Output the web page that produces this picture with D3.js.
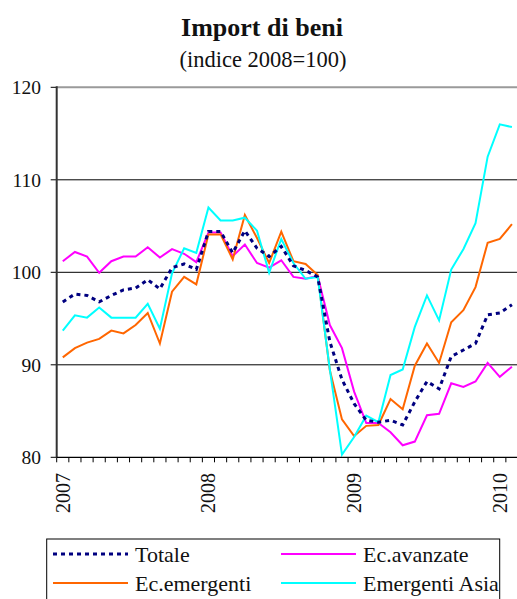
<!DOCTYPE html>
<html><head>
<meta charset="utf-8">
<script src="https://d3js.org/d3.v7.min.js"></script>
<style>
  body { margin: 0; background: #fff; }
  svg { font-family: "Liberation Serif", "Times New Roman", "DejaVu Serif", serif; }
  text { fill: #111; }
  line.grid { stroke: #000; stroke-width: 1px; }
</style>
</head>
<body>
<svg id="chart" width="517" height="599"></svg>
<script>
// months on the category axis (Jan 2007 - Feb 2010)
const months = ["2007-01","2007-02","2007-03","2007-04","2007-05","2007-06","2007-07","2007-08","2007-09","2007-10","2007-11","2007-12",
                "2008-01","2008-02","2008-03","2008-04","2008-05","2008-06","2008-07","2008-08","2008-09","2008-10","2008-11","2008-12",
                "2009-01","2009-02","2009-03","2009-04","2009-05","2009-06","2009-07","2009-08","2009-09","2009-10","2009-11","2009-12",
                "2010-01","2010-02"];
const yearLabels = ["2007","2008","2009","2010"];
const yTicks = [80, 90, 100, 110, 120];

const totale    = [96.8, 97.65, 97.5, 96.8, 97.5, 98.1, 98.3, 99.2, 98.2, 100.5, 100.9, 100.3,
                   104.4, 104.4, 102.1, 104.5, 102.6, 101.7, 102.8, 100.7, 100.2, 99.5, 92.5, 88.4,
                   85.8, 84.0, 83.8, 84.0, 83.5, 86.0, 88.2, 87.4, 90.9, 91.6, 92.3, 95.4, 95.6, 96.5];
const avanzate  = [101.2, 102.2, 101.7, 99.95, 101.2, 101.7, 101.7, 102.7, 101.6, 102.5, 102.0, 101.1,
                   104.3, 104.3, 101.75, 103.0, 101.0, 100.5, 101.3, 99.5, 99.3, 99.6, 94.3, 91.8,
                   87.1, 83.7, 83.7, 82.7, 81.3, 81.7, 84.55, 84.7, 88.0, 87.6, 88.2, 90.2, 88.7, 89.8];
const emergenti = [90.8, 91.8, 92.4, 92.8, 93.7, 93.4, 94.3, 95.6, 92.3, 97.9, 99.5, 98.7,
                   104.1, 104.1, 101.4, 106.2, 103.7, 101.0, 104.4, 101.2, 100.9, 99.7, 89.4, 84.1,
                   82.3, 83.4, 83.5, 86.3, 85.2, 89.9, 92.3, 90.2, 94.6, 95.9, 98.4, 103.2, 103.6, 105.2];
const asia      = [93.7, 95.35, 95.1, 96.2, 95.1, 95.1, 95.1, 96.6, 93.9, 99.9, 102.6, 102.1,
                   107.0, 105.6, 105.6, 105.9, 104.5, 99.95, 103.6, 101.0, 99.3, 99.5, 89.5, 80.3,
                   82.2, 84.5, 83.8, 88.9, 89.5, 94.1, 97.5, 94.8, 100.3, 102.5, 105.3, 112.5, 116.0, 115.7];

const series = [
  {name: "Ec.avanzate",    values: avanzate,  color: "#ff00ff", width: 2, dash: null},
  {name: "Ec.emergenti",   values: emergenti, color: "#ff6600", width: 2, dash: null},
  {name: "Emergenti Asia", values: asia,      color: "#00ffff", width: 2, dash: null},
  {name: "Totale",         values: totale,    color: "#000080", width: 3, dash: "4,4"}
];

const svg = d3.select("#chart");
const plotLeft = 56.7, plotRight = 518, plotTop = 87.3, plotBottom = 457.3;
const serif = "'Liberation Serif', 'Times New Roman', serif";

const x = d3.scaleBand().domain(months).range([plotLeft, plotRight]);
const y = d3.scaleLinear().domain([80, 120]).range([plotBottom, plotTop]);

// titles
svg.append("text").attr("x", 262).attr("y", 36).attr("text-anchor", "middle")
   .attr("font-family", serif)
   .style("font-size", "26px").style("font-weight", "bold").text("Import di beni");
svg.append("text").attr("x", 263).attr("y", 67).attr("text-anchor", "middle")
   .attr("font-family", serif)
   .style("font-size", "22.5px").text("(indice 2008=100)");

// gridlines
svg.selectAll("line.grid").data([90, 100, 110]).join("line")
   .attr("class", "grid")
   .attr("x1", plotLeft).attr("x2", plotRight)
   .attr("y1", d => y(d)).attr("y2", d => y(d));
svg.append("line").attr("x1", plotLeft).attr("x2", plotRight).attr("y1", y(120)).attr("y2", y(120))
   .attr("stroke", "#9a9a9a").attr("stroke-width", 2);

// y axis
svg.selectAll("line.ytick").data(yTicks).join("line")
   .attr("class", "ytick").attr("stroke", "#000")
   .attr("x1", plotLeft - 6).attr("x2", plotLeft)
   .attr("y1", d => y(d)).attr("y2", d => y(d));
svg.selectAll("text.ylab").data(yTicks).join("text")
   .attr("class", "ylab").attr("text-anchor", "end")
   .attr("font-family", serif)
   .attr("x", 41).attr("y", d => y(d)).attr("dy", "0.35em")
   .style("font-size", "19.5px").text(d => d);

// x axis
const bounds = months.map(m => x(m)).concat([x(months[months.length - 1]) + x.bandwidth()]);
svg.selectAll("line.xtick").data(bounds).join("line")
   .attr("class", "xtick").attr("stroke", "#000")
   .attr("x1", d => d).attr("x2", d => d)
   .attr("y1", plotBottom).attr("y2", plotBottom + 5);
svg.selectAll("text.xlab").data(yearLabels).join("text")
   .attr("class", "xlab").attr("text-anchor", "end")
   .attr("font-family", serif)
   .attr("transform", d => "translate(" + (x(d + "-01") + x.bandwidth() / 2) + "," + 473 + ") rotate(-90)")
   .attr("dy", "0.35em")
   .style("font-size", "20px").text(d => d);

// lines
const line = d3.line().x((d, i) => x(months[i]) + x.bandwidth() / 2).y(d => y(d));
svg.selectAll("path.series").data(series).join("path")
   .attr("class", "series")
   .attr("fill", "none")
   .attr("stroke", d => d.color)
   .attr("stroke-width", d => d.width)
   .attr("stroke-dasharray", d => d.dash)
   .attr("d", d => line(d.values));

// axis lines on top
svg.append("line").attr("x1", plotLeft).attr("x2", plotLeft).attr("y1", plotTop - 1).attr("y2", plotBottom)
   .attr("stroke", "#333").attr("stroke-width", 2);
svg.append("line").attr("x1", plotLeft).attr("x2", plotRight).attr("y1", plotBottom).attr("y2", plotBottom)
   .attr("stroke", "#000").attr("stroke-width", 1.2);

// legend
const legend = svg.append("g");
legend.append("rect").attr("x", 46.7).attr("y", 539).attr("width", 453).attr("height", 80)
   .attr("fill", "#fff").attr("stroke", "#000");
const legendItems = [
  {s: series[3], x: 53,  y: 554},
  {s: series[0], x: 281, y: 554},
  {s: series[1], x: 53,  y: 583},
  {s: series[2], x: 281, y: 583}
];
legendItems.forEach(it => {
  legend.append("line").attr("x1", it.x).attr("x2", it.x + 75).attr("y1", it.y).attr("y2", it.y)
     .attr("stroke", it.s.color).attr("stroke-width", it.s.width)
     .attr("stroke-dasharray", it.s.dash);
  legend.append("text").attr("x", it.x + 82).attr("y", it.y + 8)
     .attr("font-family", serif)
     .style("font-size", "22px").text(it.s.name);
});
</script>
</body>
</html>
